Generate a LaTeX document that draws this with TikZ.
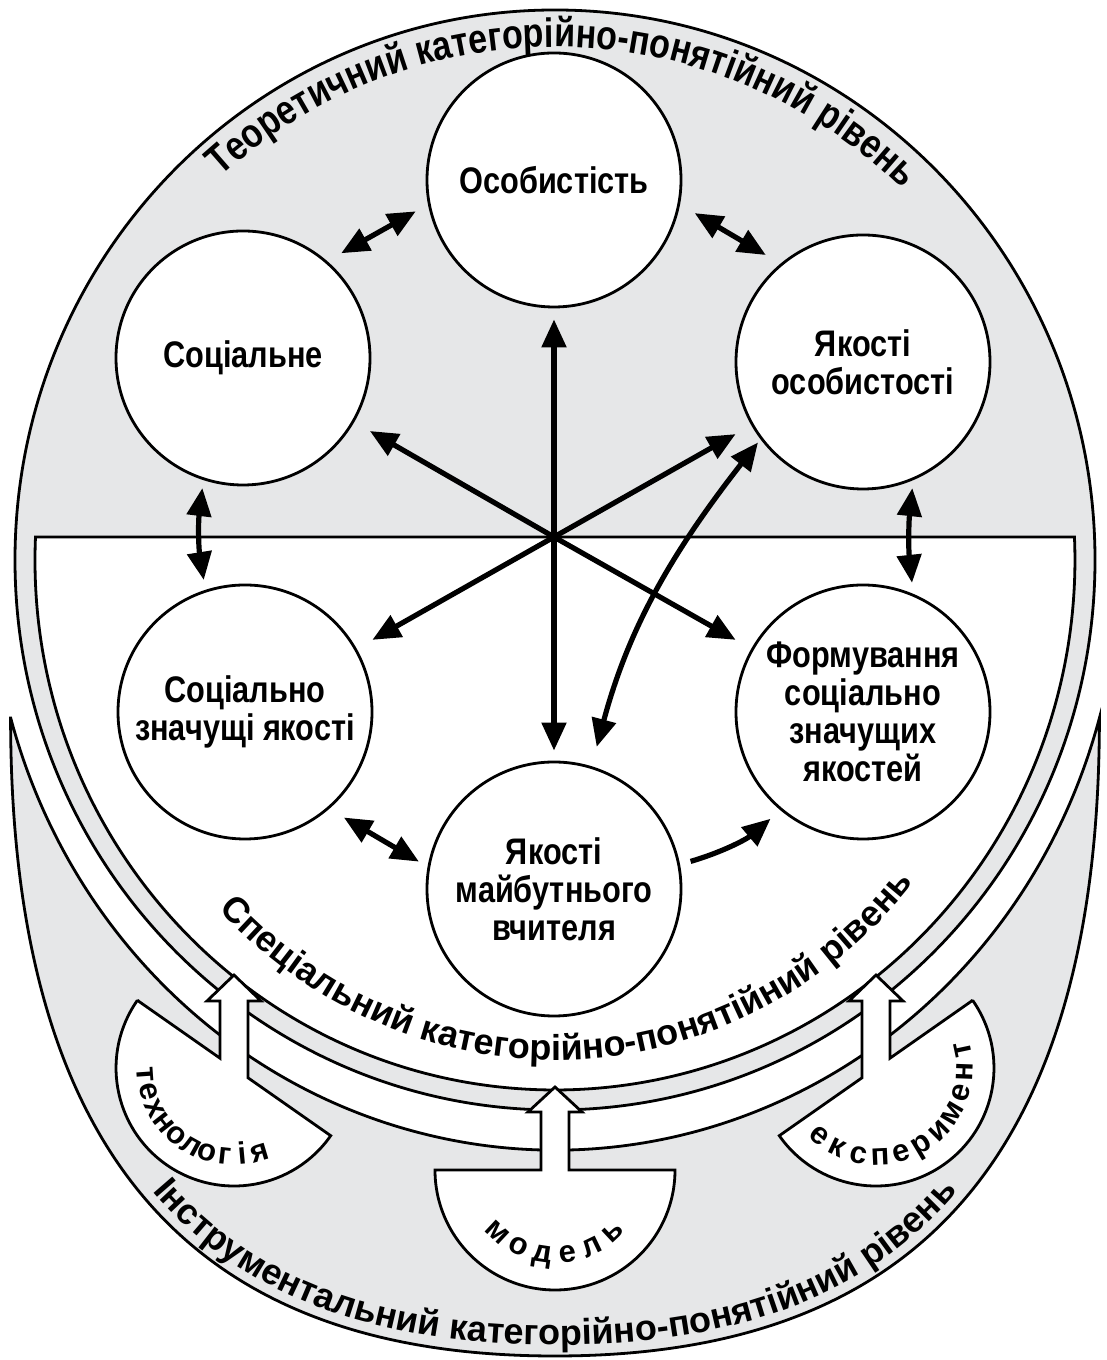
\documentclass[tikz,border=0pt]{standalone}
\usepackage{fontspec}
\setmainfont{Liberation Sans}
\newfontfamily\narrowfont[FakeStretch=0.83]{Liberation Sans}
\usetikzlibrary{arrows.meta,decorations.text,calc}
\definecolor{bandgray}{RGB}{230,231,232}
\newcommand\cvfont{\bfseries\fontsize{36}{36}\selectfont}
\newcommand\cvnarrow{\narrowfont\bfseries\fontsize{41}{41}\selectfont}
\begin{document}
\begin{tikzpicture}[x=1pt,y=1pt,
  outl/.style={draw=black,line width=2.8pt},
  circ/.style={circle,draw=black,line width=2.8pt,fill=white,minimum size=254pt,inner sep=0pt,align=center,
    font=\narrowfont\bfseries\fontsize{37}{38}\selectfont},
  arr/.style={line width=5.2pt,-{Triangle[length=28pt,width=24pt]}},
  darr/.style={line width=5.2pt,{Triangle[length=28pt,width=24pt]}-{Triangle[length=28pt,width=24pt]}},
  hollow/.style={fill=white,draw=black,line width=2.8pt,line join=miter},
  bowltext/.style={font=\bfseries\fontsize{31}{31}\selectfont,inner sep=0pt,anchor=base}
]
\useasboundingbox (0,0) rectangle (1107,1360);

% instrumental crescent
\path[fill=bandgray,outl] (10.6,642) .. controls (10.6,180) and (215,4) .. (555,4)
  .. controls (895,4) and (1099.4,180) .. (1099.4,642)
  arc[start angle=344.47,end angle=195.53,x radius=565,y radius=590] -- cycle;
% theoretical egg
\path[fill=bandgray,outl] (555,800) ellipse[x radius=540,y radius=550];
% special white U
\path[fill=white,outl] (35.5,823) arc[start angle=177.51,end angle=362.49,x radius=520,y radius=530] -- cycle;

% bowls with hollow arrows
\coordinate (tb) at (234,292);
\coordinate (mb) at (555,190);
\coordinate (eb) at (876,292);
\path[hollow] (137.3,359.7) -- (220,301.8) -- (220,359) -- (207,359) -- (234,385) -- (261,359) -- (248,359)
  -- (248,282.2) -- (330.7,224.3) arc[start angle=-35,end angle=-215,radius=118] -- cycle;
\path[hollow] (435,190) -- (541,190) -- (541,248) -- (528,248) -- (555,273) -- (582,248) -- (569,248)
  -- (569,190) -- (675,190) arc[start angle=0,end angle=-180,radius=120] -- cycle;
\path[hollow] (972.7,359.7) -- (890,301.8) -- (890,359) -- (903,359) -- (876,385) -- (849,359) -- (862,359)
  -- (862,282.2) -- (779.3,224.3) arc[start angle=215,end angle=395,radius=118] -- cycle;

% circles
\node[circ] (os) at (554,1180) {Особистість};
\node[circ] (soc) at (243,1002) {Соціальне};
\node[circ] (yo) at (863,998) {Якості\\особистості};
\node[circ] (sz) at (245,648) {Соціально\\значущі якості};
\node[circ] (fm) at (863,648) {Формування\\соціально\\значущих\\якостей};
\node[circ] (ym) at (554,471) {Якості\\майбутнього\\вчителя};

% connectors
\coordinate (hub) at (554,823);
\draw[arr,shorten >=18pt] (hub) -- (soc);
\draw[arr,shorten >=18pt] (hub) -- (yo);
\draw[arr,shorten >=18pt] (hub) -- (sz);
\draw[arr,shorten >=18pt] (hub) -- (fm);
\draw[darr,shorten <=11pt,shorten >=10pt] (os) -- (ym);
\draw[darr,shorten <=14pt,shorten >=16pt] (os.191) -- (soc.49);
\draw[darr,shorten <=17pt,shorten >=17pt] (os.349) -- (yo.130);
\draw[darr,shorten <=8pt,shorten >=10pt] (soc.252) to[bend right=8] (sz.108);
\draw[darr,shorten <=8pt,shorten >=11pt] (yo.293) to[bend right=6] (fm.67);
\draw[darr,shorten <=17pt,shorten >=10pt] (sz.311) -- (ym.170);
\draw[arr,shorten <=11pt,shorten >=13pt] (ym.11) to[bend right=12] (fm.230);
\draw[darr,shorten <=4pt,shorten >=20pt] (yo.217) to[out=232,in=75] (ym.73);

% curved level titles
\path[decorate,decoration={text along path,text align=center,
  text={|\cvnarrow|Теоретичний категорійно-понятійний рівень}}]
  ($(555,800)+(136:503 and 513)$) arc[start angle=136,end angle=42,x radius=503,y radius=513];
\path[decorate,decoration={text along path,text align=center,
  text={|\cvfont|Спеціальний категорійно-понятійний рівень}}]
  ($(555,800)+(204:470 and 500)$) arc[start angle=204,end angle=340,x radius=470,y radius=500];
\path[decorate,decoration={text along path,text align=center,
  text={|\cvfont|Інструментальний категорійно-понятійний рівень}}]
  (22,642) .. controls (22,186) and (218,15) .. (555,15) .. controls (892,15) and (1088,186) .. (1088,642);

% bowl labels
\foreach \ch [count=\i from 0] in {т,е,х,н,о,л,о,г,і,я}
  \node[bowltext,rotate={184+\i*11.4+90}] (tl\i) at ($(tb)+({184+\i*11.4}:97)$) {\ch};
\foreach \ch [count=\i from 0] in {м,о,д,е,л,ь}
  \node[bowltext,rotate={227+\i*17.2+90}] (ml\i) at ($(mb)+({227+\i*17.2}:93)$) {\ch};
\foreach \ch [count=\i from 0] in {е,к,с,п,е,р,и,м,е,н,т}
  \node[bowltext,rotate={230+\i*14.2+90}] (el\i) at ($(eb)+({230+\i*14.2}:97)$) {\ch};
\end{tikzpicture}
\end{document}
